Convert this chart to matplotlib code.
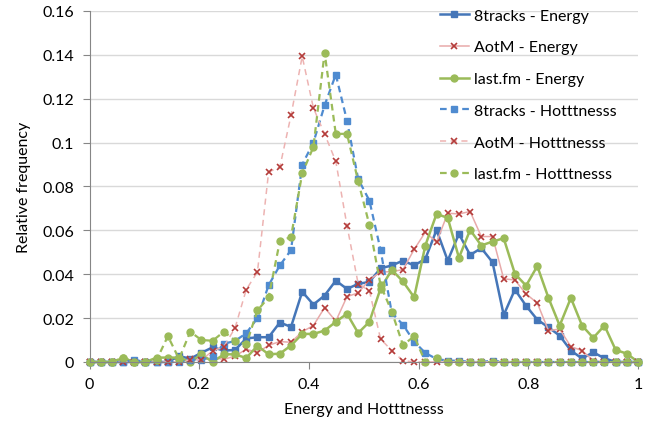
import numpy as np
import matplotlib
matplotlib.use('Agg')
import matplotlib.pyplot as plt

plt.rcParams['font.family'] = ['Lato', 'DejaVu Sans']

# 50 bins between 0 and 1
x = np.arange(50) / 49

tracks_energy = [0, 0, 0, 0, 0, 0, 0, 0, 0.0027, 0.0015,
                 0.0042, 0.0067, 0.0052, 0.0055, 0.0107, 0.0113, 0.0113, 0.018, 0.016, 0.032,
                 0.0262, 0.0303, 0.0371, 0.0333, 0.0356, 0.0365, 0.0427, 0.044, 0.0462, 0.044,
                 0.047, 0.0602, 0.0462, 0.0584, 0.0488, 0.0519, 0.0455, 0.0214, 0.033, 0.0256,
                 0.0193, 0.0158, 0.012, 0.0052, 0.0016, 0.0044, 0.0017, 0, 0, 0]
aotm_energy = [0, 0, 0, 0, 0, 0, 0, 0, 0, 0.0015,
               0.0008, 0.002, 0.0012, 0.0027, 0.0058, 0.0043, 0.0076, 0.0093, 0.009, 0.0138,
               0.0166, 0.0248, 0.0186, 0.0298, 0.0315, 0.0375, 0.041, 0.0412, 0.0421, 0.0513,
               0.0592, 0.0546, 0.0678, 0.0675, 0.0686, 0.0572, 0.0572, 0.0379, 0.0374, 0.031,
               0.0269, 0.0143, 0.015, 0.007, 0.0052, 0.0006, 0, 0, 0, 0]
lastfm_energy = [0, 0, 0, 0.0018, 0, 0, 0.002, 0.002, 0.002, 0,
                 0.0035, 0, 0.0035, 0.0035, 0.0018, 0.0074, 0.0035, 0.0038, 0.0075, 0.0128,
                 0.0128, 0.0143, 0.0183, 0.022, 0.0132, 0.0183, 0.0335, 0.042, 0.0367, 0.0295,
                 0.0531, 0.0675, 0.0657, 0.0475, 0.0602, 0.0531, 0.0549, 0.0564, 0.0402, 0.0348,
                 0.0437, 0.0292, 0.0166, 0.0292, 0.0166, 0.011, 0.0166, 0.0055, 0.0038, 0]
tracks_hot = [0, 0, 0, 0, 0.001, 0, 0, 0, 0, 0.001,
              0.001, 0.0026, 0.0083, 0.0096, 0.0131, 0.020, 0.035, 0.044, 0.051, 0.090,
              0.100, 0.117, 0.131, 0.110, 0.0834, 0.0736, 0.0511, 0.0224, 0.017, 0.0093,
              0.0041, 0.0014, 0.0006, 0.0006, 0, 0, 0.0006, 0, 0, 0,
              0, 0, 0, 0, 0, 0, 0, 0, 0, 0]
aotm_hot = [0, 0, 0, 0, 0, 0, 0, 0, 0, 0.001,
            0.001, 0.005, 0.007, 0.0155, 0.033, 0.041, 0.0866, 0.0888, 0.1124, 0.1393,
            0.1158, 0.1039, 0.0915, 0.0622, 0.0356, 0.0325, 0.0105, 0.0052, 0.0006, 0,
            0, 0, 0, 0, 0, 0, 0, 0, 0, 0,
            0, 0, 0, 0, 0, 0, 0, 0, 0, 0]
lastfm_hot = [0, 0, 0, 0.002, 0, 0, 0.001, 0.0118, 0.0014, 0.0138,
              0.010, 0.0097, 0.0138, 0.0097, 0.008, 0.0235, 0.0295, 0.055, 0.057, 0.086,
              0.098, 0.141, 0.104, 0.104, 0.0824, 0.0625, 0.035, 0.023, 0.0077, 0.0117,
              0, 0.0017, 0, 0, 0, 0, 0, 0, 0, 0,
              0, 0, 0, 0, 0, 0, 0, 0, 0, 0]

fig = plt.figure(figsize=(6.7, 4.27), dpi=100)
ax = fig.add_axes([0.1336, 0.1499, 0.8187, 0.822])

ax.plot(x, tracks_energy, color='#4576B8', lw=1.8, marker='s', ms=5,
        label='8tracks - Energy', clip_on=False)
ax.plot(x, aotm_energy, color='#E8AAAA', lw=1.1, marker='x', ms=4, mew=1.2,
        mec='#B43C3A', label='AotM - Energy', clip_on=False)
ax.plot(x, lastfm_energy, color='#9BBB59', lw=1.8, marker='o', ms=5,
        label='last.fm - Energy', clip_on=False)
ax.plot(x, tracks_hot, color='#4F8BD0', lw=1.6, ls=(0, (3, 2)), marker='s', ms=5,
        label='8tracks - Hotttnesss', clip_on=False)
ax.plot(x, aotm_hot, color='#EDB3B2', lw=1.1, ls=(0, (4, 3)), marker='x', ms=4, mew=1.2,
        mec='#B43C3A', label='AotM - Hotttnesss', clip_on=False)
ax.plot(x, lastfm_hot, color='#9BBB59', lw=1.6, ls=(0, (3, 2)), marker='o', ms=5,
        label='last.fm - Hotttnesss', clip_on=False)

ax.set_xlim(0, 1)
ax.set_ylim(0, 0.16)
ax.set_xticks(np.arange(0, 1.01, 0.2))
ax.set_xticklabels(['0', '0.2', '0.4', '0.6', '0.8', '1'])
ax.set_yticks(np.arange(0, 0.161, 0.02))
ax.set_yticklabels(['0', '0.02', '0.04', '0.06', '0.08', '0.1', '0.12', '0.14', '0.16'])
ax.tick_params(labelsize=11.5, length=5, color='#868686', pad=6)
ax.grid(axis='y', color='#D9D9D9', lw=1)
ax.set_axisbelow(True)
for s in ['top', 'right']:
    ax.spines[s].set_visible(False)
for s in ['left', 'bottom']:
    ax.spines[s].set_color('#868686')

ax.set_xlabel('Energy and Hotttnesss', fontsize=11.5, labelpad=8)
ax.set_ylabel('Relative frequency', fontsize=11.5, labelpad=8)

ax.legend(loc='upper left', bbox_to_anchor=(0.639, 1.007), frameon=False,
          fontsize=11.5, handlelength=1.8, handletextpad=0.3, labelspacing=1.1,
          borderpad=0, borderaxespad=0)

fig.savefig('out.png')
